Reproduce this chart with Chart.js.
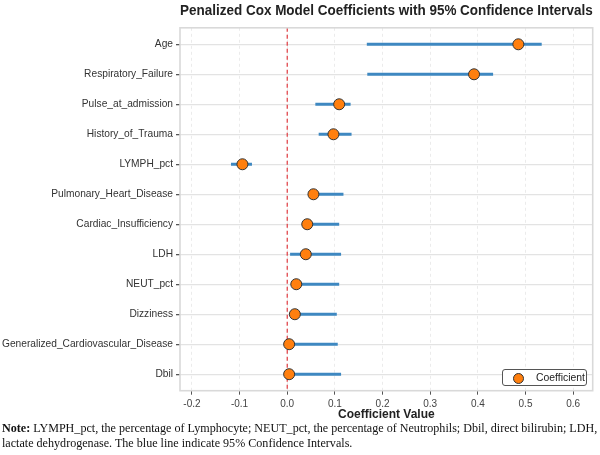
<!DOCTYPE html>
<html>
<head>
<meta charset="utf-8">
<script src="https://cdn.jsdelivr.net/npm/chart.js@4.4.0/dist/chart.umd.min.js"></script>
<style>
    body { margin: 0; background: #fff; }
    #wrap { position: relative; width: 600px; height: 455px; overflow: hidden; }
    #chart { position: absolute; left: 0; top: 0; }
    #legend {
        position: absolute; left: 502px; top: 369px; width: 85px; height: 17px;
        border: 1px solid #555; border-radius: 3px; background: #fff; box-sizing: border-box;
        font: 10.4px "Liberation Sans", Arial, sans-serif; color: #222;
    }
    #legend .dot {
        position: absolute; left: 10px; top: 2.5px; width: 9px; height: 9px; border-radius: 50%;
        background: #ff7f0e; border: 1px solid #333;
    }
    #legend .txt { position: absolute; left: 33px; top: 1.5px; }
    #note {
        position: absolute; left: 2px; top: 421px; white-space: nowrap;
        font: 12.1px "Liberation Serif", "Times New Roman", serif; line-height: 15px; color: #111;
    }
</style>
</head>
<body>
<div id="wrap">
    <canvas id="chart" width="600" height="422"></canvas>
    <div id="legend"><span class="dot"></span><span class="txt">Coefficient</span></div>
    <div id="note"><b>Note:</b> LYMPH_pct, the percentage of Lymphocyte; NEUT_pct, the percentage of Neutrophils; Dbil, direct bilirubin; LDH,<br>lactate dehydrogenase. The blue line indicate 95% Confidence Intervals.</div>
</div>
<script>
    // Variáveis (de cima para baixo)
    const variaveis = ['Age', 'Respiratory_Failure', 'Pulse_at_admission', 'History_of_Trauma', 'LYMPH_pct',
        'Pulmonary_Heart_Disease', 'Cardiac_Insufficiency', 'LDH', 'NEUT_pct', 'Dizziness',
        'Generalized_Cardiovascular_Disease', 'Dbil'];
    const coeficientes = [0.485, 0.392, 0.109, 0.097, -0.094, 0.055, 0.042, 0.039, 0.019, 0.016, 0.004, 0.004];
    const icInferior = [0.167, 0.168, 0.059, 0.066, -0.118, 0.046, 0.034, 0.006, 0.011, 0.009, 0.000, 0.000];
    const icSuperior = [0.534, 0.432, 0.133, 0.135, -0.074, 0.118, 0.109, 0.113, 0.109, 0.104, 0.106, 0.113];
    const ticksX = [-0.2, -0.1, 0.0, 0.1, 0.2, 0.3, 0.4, 0.5, 0.6];

    const fonteSans = '"Liberation Sans", Arial, sans-serif';

    // Uma linha por intervalo de confiança
    const linhasIC = variaveis.map((v, i) => ({
        type: 'line',
        label: 'IC ' + v,
        data: [{ x: icInferior[i], y: i }, { x: icSuperior[i], y: i }],
        borderColor: '#3e88c1',
        borderWidth: 3,
        pointRadius: 0,
        order: 2
    }));

    // Moldura cinza em volta da área do gráfico
    const moldura = {
        id: 'moldura',
        afterDraw(chart) {
            const { ctx, chartArea: a } = chart;
            ctx.save();
            ctx.strokeStyle = '#d9d9d9';
            ctx.lineWidth = 1.6;
            ctx.strokeRect(a.left, a.top, a.right - a.left, a.bottom - a.top);
            ctx.restore();
        }
    };

    new Chart(document.getElementById('chart').getContext('2d'), {
        type: 'scatter',
        data: {
            datasets: [
                {
                    type: 'line',
                    label: 'zero',
                    data: [{ x: 0, y: -0.55 }, { x: 0, y: 11.55 }],
                    borderColor: '#e0393e',
                    borderWidth: 1.2,
                    borderDash: [4, 3],
                    pointRadius: 0,
                    order: 3
                },
                ...linhasIC,
                {
                    label: 'Coefficient',
                    data: coeficientes.map((c, i) => ({ x: c, y: i })),
                    backgroundColor: '#ff7f0e',
                    borderColor: '#333',
                    borderWidth: 1,
                    pointRadius: 5.5,
                    order: 1
                }
            ]
        },
        options: {
            responsive: false,
            animation: false,
            layout: { padding: { left: 0, right: 7.3, top: 0, bottom: 0 } },
            plugins: {
                legend: { display: false },
                tooltip: { enabled: false },
                title: {
                    display: true,
                    fullSize: false,
                    text: 'Penalized Cox Model Coefficients with 95% Confidence Intervals',
                    color: '#222',
                    font: { family: fonteSans, size: 14, weight: 'bold' },
                    padding: { top: 2.5, bottom: 8.5 }
                }
            },
            scales: {
                x: {
                    type: 'linear',
                    min: -0.225,
                    max: 0.641,
                    afterBuildTicks: s => { s.ticks = ticksX.map(v => ({ value: v })); },
                    afterFit: s => { s.height = 31.3; },
                    ticks: {
                        color: '#444',
                        padding: 3.5,
                        font: { family: fonteSans, size: 10 },
                        callback: v => v.toFixed(1)
                    },
                    grid: { color: '#ebebeb', lineWidth: 1, tickLength: 4, tickColor: '#555', tickBorderDash: [] },
                    border: { display: false, dash: [3, 3] },
                    title: {
                        display: true,
                        text: 'Coefficient Value',
                        color: '#222',
                        font: { family: fonteSans, size: 12, weight: 'bold' },
                        padding: 0
                    }
                },
                y: {
                    type: 'linear',
                    reverse: true,
                    min: -0.55,
                    max: 11.55,
                    afterBuildTicks: s => { s.ticks = variaveis.map((v, i) => ({ value: i })); },
                    afterFit: s => { s.width = 180; },
                    ticks: {
                        color: '#333',
                        padding: 3,
                        font: { family: fonteSans, size: 10.2 },
                        callback: v => variaveis[v]
                    },
                    grid: { color: '#e3e3e3', lineWidth: 1.3, tickLength: 4, tickColor: '#555' },
                    border: { display: false }
                }
            }
        },
        plugins: [moldura]
    });
</script>
</body>
</html>
